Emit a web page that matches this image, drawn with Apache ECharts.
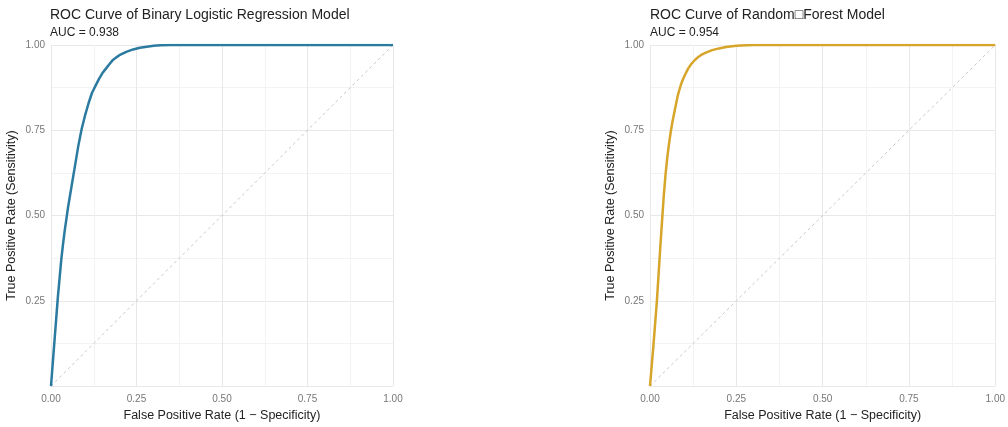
<!DOCTYPE html>
<html><head><meta charset="utf-8">
<script src="https://cdn.jsdelivr.net/npm/echarts@6/dist/echarts.min.js"></script>
<style>html,body{margin:0;padding:0;background:#fff}#c{width:1008px;height:427px}</style>
</head><body><div id="c"></div>
<script>
const titleLR = "ROC Curve of Binary Logistic Regression Model";
const aucLR = "AUC = 0.938";
const titleRF = "ROC Curve of Random\u25A1Forest Model";
const aucRF = "AUC = 0.954";
const xTitle = "False Positive Rate (1 \u2212 Specificity)";
const yTitle = "True Positive Rate (Sensitivity)";

const fprLR = [0,0.005,0.01,0.015,0.02,0.025,0.03,0.035,0.04,0.045,0.05,0.055,0.06,0.065,0.07,0.075,0.08,0.085,0.09,0.095,0.10,0.11,0.12,0.13,0.14,0.15,0.16,0.17,0.18,0.19,0.20,0.22,0.24,0.26,0.28,0.30,0.32,0.35,0.5,1];
const tprLR = [0,0.065,0.13,0.195,0.26,0.315,0.37,0.415,0.455,0.49,0.525,0.555,0.585,0.615,0.645,0.675,0.705,0.73,0.755,0.775,0.795,0.83,0.86,0.88,0.90,0.917,0.93,0.943,0.955,0.963,0.97,0.98,0.987,0.992,0.995,0.998,0.999,1,1,1];

const fprRF = [0,0.005,0.01,0.015,0.02,0.025,0.03,0.035,0.04,0.045,0.05,0.055,0.06,0.065,0.07,0.075,0.08,0.085,0.09,0.095,0.10,0.11,0.12,0.13,0.14,0.15,0.16,0.18,0.20,0.22,0.25,0.28,0.3,0.5,1];
const tprRF = [0,0.06,0.12,0.185,0.25,0.33,0.41,0.485,0.56,0.62,0.67,0.71,0.745,0.775,0.80,0.825,0.85,0.868,0.885,0.898,0.91,0.93,0.945,0.956,0.965,0.972,0.977,0.985,0.99,0.994,0.998,0.999,1,1,1];

const diag = [[0,0],[1,1]];

const FONT = "Liberation Sans, Arial, sans-serif";
function pairs(xs, ys){ return xs.map((x,i)=>[x, ys[i]]); }

function xAxis(gi){
  return {gridIndex: gi, type:'value', min:0, max:1, interval:0.25,
    name: xTitle, nameLocation:'middle', nameGap: 22,
    nameTextStyle:{fontFamily:FONT, fontSize:12.5, color:'#222'},
    axisLine:{show:false}, axisTick:{show:false},
    axisLabel:{fontFamily:FONT, fontSize:10, color:'#777', margin:8, formatter:v=>v.toFixed(2)},
    splitLine:{show:true, lineStyle:{color:'#e8e8e8', width:1}},
    minorTick:{show:false, splitNumber:2},
    minorSplitLine:{show:true, lineStyle:{color:'#f3f3f3', width:1}}};
}
function yAxis(gi){
  return {gridIndex: gi, type:'value', min:0, max:1, interval:0.25,
    name: yTitle, nameLocation:'middle', nameGap: 33,
    nameTextStyle:{fontFamily:FONT, fontSize:12.5, color:'#222'},
    axisLine:{show:false}, axisTick:{show:false},
    axisLabel:{fontFamily:FONT, fontSize:10, color:'#777', margin:6, showMinLabel:false, formatter:v=>v.toFixed(2)},
    splitLine:{show:true, lineStyle:{color:'#e8e8e8', width:1}},
    minorTick:{show:false, splitNumber:2},
    minorSplitLine:{show:true, lineStyle:{color:'#f3f3f3', width:1}}};
}

const chart = echarts.init(document.getElementById('c'), null, {renderer:'canvas'});
chart.setOption({
  backgroundColor:'#fff',
  animation:false,
  title:[
    {text:titleLR, left:45, top:3, textStyle:{fontFamily:FONT, fontSize:14, fontWeight:'normal', color:'#222'}},
    {text:aucLR, left:45, top:22, textStyle:{fontFamily:FONT, fontSize:12, fontWeight:'normal', color:'#222'}},
    {text:titleRF, left:645, top:3, textStyle:{fontFamily:FONT, fontSize:14, fontWeight:'normal', color:'#222'}},
    {text:aucRF, left:645, top:22, textStyle:{fontFamily:FONT, fontSize:12, fontWeight:'normal', color:'#222'}}
  ],
  grid:[
    {left:51, top:45, width:342, height:343},
    {left:650, top:45, width:347, height:348}
  ],
  xAxis:[xAxis(0), xAxis(1)],
  yAxis:[yAxis(0), yAxis(1)],
  series:[
    {type:'line', xAxisIndex:0, yAxisIndex:0, data:diag, symbol:'none', silent:true,
      lineStyle:{color:'#c8c8c8', width:1, type:[3,3]}},
    {type:'line', xAxisIndex:0, yAxisIndex:0, data:pairs(fprLR,tprLR), symbol:'none',
      lineStyle:{color:'#2B7BA1', width:2.5, join:'round'}},
    {type:'line', xAxisIndex:1, yAxisIndex:1, data:diag, symbol:'none', silent:true,
      lineStyle:{color:'#c8c8c8', width:1, type:[3,3]}},
    {type:'line', xAxisIndex:1, yAxisIndex:1, data:pairs(fprRF,tprRF), symbol:'none',
      lineStyle:{color:'#D6A52A', width:2.5, join:'round'}}
  ]
});
</script></body></html>
